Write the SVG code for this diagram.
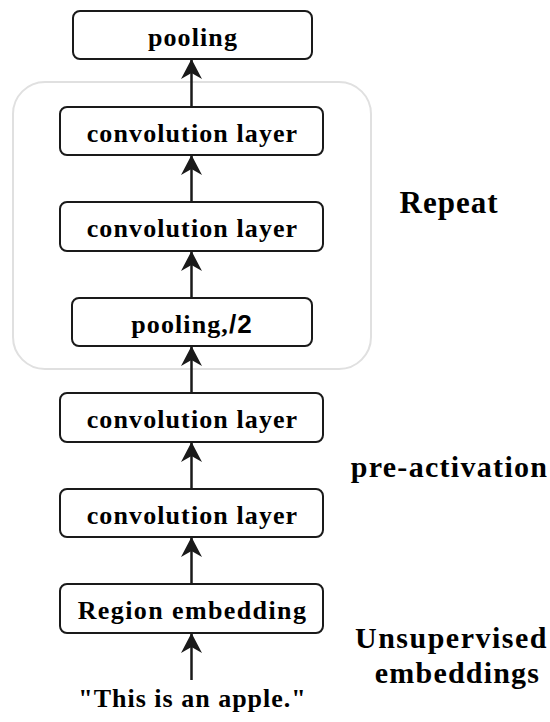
<svg xmlns="http://www.w3.org/2000/svg" width="550" height="722" viewBox="0 0 550 722">
<style>
.box{fill:#fff;stroke:#1a1a1a;stroke-width:2}
.lbl{font-family:"Liberation Serif","Times New Roman",serif;font-weight:bold;font-size:26px;fill:#000;text-anchor:middle;letter-spacing:1.1px}
.side{font-family:"Liberation Serif","Times New Roman",serif;font-weight:bold;font-size:30px;fill:#000;text-anchor:middle}
.conn{stroke:#1a1a1a;stroke-width:2.5;fill:none;marker-end:url(#ah)}
</style>
<defs>
<marker id="ah" markerUnits="userSpaceOnUse" viewBox="0 0 20 21" markerWidth="20" markerHeight="21" refX="20" refY="10.5" orient="auto">
<path d="M0,0 L20,10.5 L0,21 L6,10.5 z" fill="#1a1a1a"/>
</marker>
</defs>
<g id="repeat-group">
<rect x="13" y="82" width="358" height="287" rx="32" fill="none" stroke="#e0e0e0" stroke-width="2"/>
<text class="side" x="449" y="213" style="font-size:31px;letter-spacing:1px">Repeat</text>
</g>
<g id="connectors">
<line class="conn" x1="191.5" y1="107" x2="191.5" y2="59"/>
<line class="conn" x1="191.5" y1="202" x2="191.5" y2="155"/>
<line class="conn" x1="191.5" y1="298" x2="191.5" y2="251"/>
<line class="conn" x1="191.5" y1="393" x2="191.5" y2="346"/>
<line class="conn" x1="191.5" y1="489" x2="191.5" y2="442"/>
<line class="conn" x1="191.5" y1="584" x2="191.5" y2="537"/>
<line class="conn" x1="191.5" y1="680" x2="191.5" y2="633"/>
</g>
<g id="pooling-top">
<rect class="box" x="73" y="11" width="239" height="48" rx="7"/>
<text class="lbl" x="193" y="46">pooling</text>
</g>
<g id="conv1">
<rect class="box" x="60" y="107" width="263" height="48" rx="7"/>
<text class="lbl" x="192.5" y="141.5">convolution layer</text>
</g>
<g id="conv2">
<rect class="box" x="60" y="202" width="263" height="49" rx="7"/>
<text class="lbl" x="192.5" y="237">convolution layer</text>
</g>
<g id="pooling-half">
<rect class="box" x="72" y="298" width="240" height="48" rx="7"/>
<text class="lbl" x="192" y="333">pooling,<tspan style="font-family:'Liberation Sans',Arial,sans-serif">/2</tspan></text>
</g>
<g id="conv3">
<rect class="box" x="60" y="393" width="263" height="49" rx="7"/>
<text class="lbl" x="192.5" y="428">convolution layer</text>
</g>
<g id="conv4">
<rect class="box" x="60" y="489" width="263" height="48" rx="7"/>
<text class="lbl" x="192.5" y="524">convolution layer</text>
</g>
<g id="region-embedding">
<rect class="box" x="60" y="584" width="263" height="49" rx="7"/>
<text class="lbl" x="192.5" y="619" style="letter-spacing:1.4px">Region embedding</text>
</g>
<g id="input">
<text class="lbl" x="192.5" y="707" style="letter-spacing:1px">"This is an apple."</text>
</g>
<g id="side-labels">
<text class="side" x="449.5" y="477" style="letter-spacing:1.3px">pre-activation</text>
<text class="side" x="451.5" y="648" style="letter-spacing:1.5px">Unsupervised</text>
<text class="side" x="457.5" y="683" style="letter-spacing:1.2px">embeddings</text>
</g>
</svg>
